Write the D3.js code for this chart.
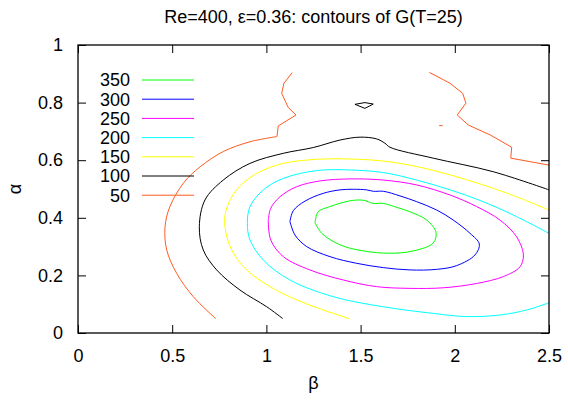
<!DOCTYPE html>
<html lang="en">
	<head>
		<meta charset="utf-8">
		<title>contours of G(T=25)</title>
		<script type="text/javascript" src="https://cdnjs.cloudflare.com/ajax/libs/d3/7.8.5/d3.min.js"></script>
		<style type="text/css">
			body { margin: 0; background: #fff; }
			text { font-family: "Liberation Sans", Arial, sans-serif; fill: #000; }
		</style>
	</head>
	<body>
		<script type="text/javascript">

			//Contour levels, top to bottom as in the key
			var levels = [350, 300, 250, 200, 150, 100, 50];
			var levelColors = ["#00ff00", "#0000ff", "#ff00ff", "#00ffff", "#ffff00", "#000000", "#ff5a1e"];

			var xTicks = [0, 0.5, 1, 1.5, 2, 2.5];
			var yTicks = [0, 0.2, 0.4, 0.6, 0.8, 1];

			//Contour pieces, [beta, alpha] pairs
			var c350 = [[
				[1.258,0.383],[1.275,0.421],[1.338,0.439],[1.444,0.459],[1.514,0.461],[1.567,0.450],
				[1.620,0.450],[1.692,0.436],[1.762,0.421],[1.851,0.392],[1.900,0.350],[1.886,0.313],
				[1.780,0.285],[1.656,0.277],[1.514,0.285],[1.391,0.306],[1.294,0.346],[1.258,0.383]
			]];
			var c300 = [[
				[1.125,0.387],[1.143,0.425],[1.205,0.458],[1.302,0.485],[1.391,0.497],[1.461,0.499],
				[1.532,0.497],[1.568,0.492],[1.621,0.492],[1.709,0.476],[1.798,0.456],[1.904,0.427],
				[1.992,0.392],[2.081,0.346],[2.130,0.309],[2.107,0.271],[2.010,0.234],[1.904,0.221],
				[1.762,0.219],[1.621,0.227],[1.479,0.242],[1.338,0.265],[1.214,0.300],[1.152,0.340],
				[1.125,0.387]
			]];
			var c250 = [[
				[1.010,0.392],[1.023,0.433],[1.072,0.473],[1.161,0.508],[1.285,0.528],[1.444,0.535],
				[1.621,0.531],[1.798,0.514],[1.975,0.479],[2.116,0.439],[2.240,0.392],[2.328,0.334],
				[2.364,0.271],[2.346,0.230],[2.258,0.196],[2.116,0.172],[1.939,0.157],[1.762,0.155],
				[1.585,0.161],[1.408,0.184],[1.231,0.219],[1.090,0.265],[1.023,0.323],[1.010,0.392]
			]];
			var c200 = [[
				[2.500,0.346],[2.328,0.404],[2.151,0.456],[1.975,0.497],[1.798,0.531],[1.621,0.557],
				[1.444,0.566],[1.267,0.564],[1.090,0.537],[0.984,0.497],[0.913,0.439],[0.899,0.381],
				[0.913,0.323],[0.984,0.253],[1.125,0.184],[1.355,0.126],[1.621,0.091],[1.886,0.068],
				[2.063,0.057],[2.240,0.0625],[2.382,0.080],[2.500,0.105]
			]];
			var c150 = [[
				[2.500,0.427],[2.328,0.473],[2.151,0.514],[1.975,0.549],[1.798,0.578],[1.621,0.597],
				[1.444,0.604],[1.267,0.603],[1.090,0.589],[0.948,0.554],[0.842,0.497],[0.786,0.427],
				[0.780,0.369],[0.816,0.288],[0.895,0.219],[1.019,0.161],[1.161,0.115],[1.302,0.080],
				[1.444,0.049]
			]];
			var c100 = [[
				[2.500,0.497],[2.204,0.560],[1.886,0.607],[1.656,0.645],[1.629,0.659],[1.585,0.674],
				[1.497,0.680],[1.391,0.670],[1.249,0.644],[1.090,0.624],[0.913,0.589],[0.771,0.531],
				[0.674,0.462],[0.644,0.369],[0.665,0.288],[0.736,0.219],[0.860,0.149],[1.002,0.091],
				[1.087,0.050]
			]];
			var c50 = [[
				[1.056,0.682],[0.913,0.664],[0.771,0.630],[0.648,0.577],[0.559,0.520],[0.488,0.439],
				[0.462,0.369],[0.471,0.288],[0.524,0.207],[0.612,0.126],[0.731,0.050]
			]];

			//Jagged pieces (drawn with straight segments)
			var c100Steps = [[
				[1.470,0.794],[1.523,0.800],[1.567,0.795],[1.523,0.780],[1.470,0.794]
			]];
			var c50Steps = [[
				[1.137,0.904],[1.093,0.867],[1.081,0.832],[1.116,0.783],[1.157,0.757],[1.063,0.719],
				[1.056,0.682]
			], [
				[1.865,0.905],[1.975,0.867],[2.042,0.832],[2.059,0.798],[2.013,0.757],[2.072,0.722],
				[2.187,0.688],[2.302,0.645],[2.297,0.607],[2.500,0.583]
			], [
				[1.917,0.720],[1.935,0.720]
			]];

			var contours = [c350, c300, c250, c200, c150, c100, c50];
			var contourSteps = [[], [], [], [], [], c100Steps, c50Steps];

			//Width and height
			var w = 568;
			var h = 400;
			var margin = {top: 45, right: 19, bottom: 67, left: 78};
			var fontSize = 18;

			var xScale = d3.scaleLinear()
						   .domain([0, 2.5])
						   .range([margin.left, w - margin.right]);

			var yScale = d3.scaleLinear()
						   .domain([0, 1])
						   .range([h - margin.bottom, margin.top]);

			var svg = d3.select("body")
						.append("svg")
						.attr("width", w)
						.attr("height", h);

			svg.append("rect")
			   .attr("width", w)
			   .attr("height", h)
			   .attr("fill", "#fff");

			//Title
			svg.append("text")
			   .attr("x", (xScale(0) + xScale(2.5)) / 2)
			   .attr("y", 23)
			   .attr("text-anchor", "middle")
			   .style("font-size", fontSize + "px")
			   .text("Re=400, \u03b5=0.36: contours of G(T=25)");

			//Axes, ticks pointing inward
			var fmt = d => String(d);
			var xAxis = d3.axisBottom(xScale).tickValues(xTicks).tickFormat(fmt)
						  .tickSizeInner(-8).tickSizeOuter(0).tickPadding(16);
			var yAxis = d3.axisLeft(yScale).tickValues(yTicks).tickFormat(fmt)
						  .tickSizeInner(-8).tickSizeOuter(0).tickPadding(15);
			var xTop = d3.axisTop(xScale).tickValues(xTicks).tickFormat("")
						 .tickSizeInner(-8).tickSizeOuter(0);
			var yRight = d3.axisRight(yScale).tickValues(yTicks).tickFormat("")
						   .tickSizeInner(-8).tickSizeOuter(0);

			svg.append("g").attr("transform", `translate(0,${yScale(0)})`).call(xAxis);
			svg.append("g").attr("transform", `translate(${xScale(0)},0)`).call(yAxis);
			svg.append("g").attr("transform", `translate(0,${yScale(1)})`).call(xTop);
			svg.append("g").attr("transform", `translate(${xScale(2.5)},0)`).call(yRight);

			svg.selectAll(".domain").remove();
			svg.selectAll(".tick line").attr("stroke", "#000");
			svg.selectAll(".tick text")
			   .style("font-size", fontSize + "px")
			   .style("font-family", "'Liberation Sans', Arial, sans-serif");

			//Axis titles
			svg.append("text")
			   .attr("x", (xScale(0) + xScale(2.5)) / 2)
			   .attr("y", 389)
			   .attr("text-anchor", "middle")
			   .style("font-size", fontSize + "px")
			   .text("\u03b2");

			svg.append("text")
			   .attr("transform", `translate(21,${(yScale(0) + yScale(1)) / 2}) rotate(-90)`)
			   .attr("text-anchor", "middle")
			   .style("font-size", fontSize + "px")
			   .text("\u03b1");

			//Contour lines
			var smoothLine = d3.line()
							   .x(d => xScale(d[0]))
							   .y(d => yScale(d[1]))
							   .curve(d3.curveCatmullRom.alpha(0.5));
			var rawLine = d3.line()
							.x(d => xScale(d[0]))
							.y(d => yScale(d[1]));

			levels.forEach((lev, i) => {
				var g = svg.append("g")
						   .attr("fill", "none")
						   .attr("stroke", levelColors[i])
						   .attr("stroke-width", 1);
				g.selectAll("path.smooth")
				 .data(contours[i])
				 .enter()
				 .append("path")
				 .attr("class", "smooth")
				 .attr("d", smoothLine);
				g.selectAll("path.raw")
				 .data(contourSteps[i])
				 .enter()
				 .append("path")
				 .attr("class", "raw")
				 .attr("d", rawLine);
			});

			//Key
			var key = svg.append("g");
			levels.forEach((lev, i) => {
				var ky = 80 + i * 19.2;
				key.append("text")
				   .attr("x", 130)
				   .attr("y", ky)
				   .attr("dy", "0.35em")
				   .attr("text-anchor", "end")
				   .style("font-size", fontSize + "px")
				   .text(lev);
				key.append("line")
				   .attr("x1", 142)
				   .attr("x2", 194)
				   .attr("y1", ky)
				   .attr("y2", ky)
				   .attr("stroke", levelColors[i])
				   .attr("stroke-width", 1);
			});

			//Frame
			svg.append("rect")
			   .attr("x", xScale(0))
			   .attr("y", yScale(1))
			   .attr("width", xScale(2.5) - xScale(0))
			   .attr("height", yScale(0) - yScale(1))
			   .attr("fill", "none")
			   .attr("stroke", "#000")
			   .attr("stroke-width", 1.3);

		</script>
	</body>
</html>
